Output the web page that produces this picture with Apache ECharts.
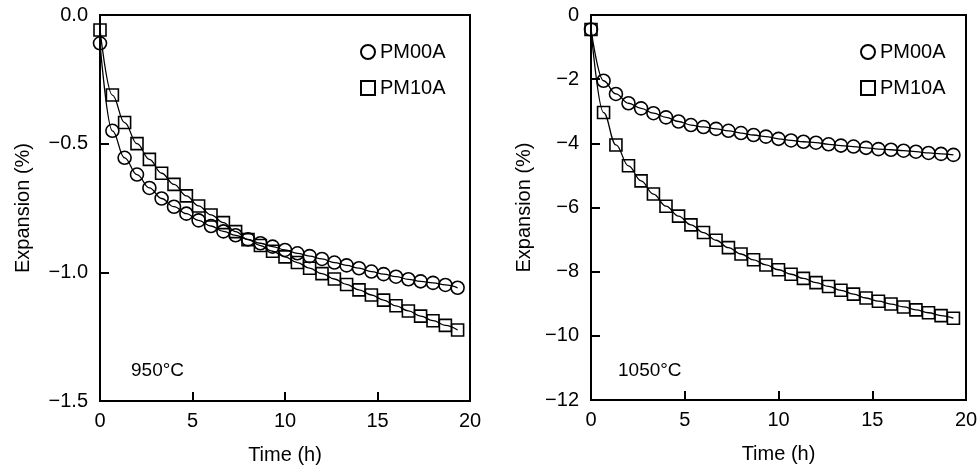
<!DOCTYPE html>
<html>
<head>
<meta charset="utf-8">
<script src="https://cdn.jsdelivr.net/npm/echarts@6/dist/echarts.min.js"></script>
<style>
  html, body { margin: 0; padding: 0; background: #fff; }
  #chart { width: 980px; height: 465px; }
</style>
</head>
<body>
<div id="chart"></div>
<script>
// time (h) of each measurement
const timeH = [0, 0.67, 1.33, 2, 2.67, 3.33, 4, 4.67, 5.33, 6, 6.67, 7.33, 8, 8.67, 9.33,
  10, 10.67, 11.33, 12, 12.67, 13.33, 14, 14.67, 15.33, 16, 16.67, 17.33, 18, 18.67, 19.33];

// 950°C
const pm00a950 = [-0.11, -0.45, -0.555, -0.62, -0.672, -0.713, -0.745, -0.772, -0.798, -0.82,
  -0.841, -0.856, -0.872, -0.887, -0.9, -0.913, -0.926, -0.937, -0.948, -0.962,
  -0.973, -0.984, -0.997, -1.007, -1.017, -1.027, -1.035, -1.041, -1.049, -1.06];
const pm10a950 = [-0.058, -0.311, -0.418, -0.5, -0.561, -0.615, -0.658, -0.703, -0.742, -0.777,
  -0.807, -0.842, -0.873, -0.896, -0.918, -0.94, -0.962, -0.984, -1.005, -1.026,
  -1.047, -1.068, -1.088, -1.108, -1.13, -1.15, -1.17, -1.188, -1.206, -1.224];

// 1050°C
const pm00a1050 = [-0.45, -2.05, -2.46, -2.75, -2.91, -3.06, -3.19, -3.32, -3.43, -3.49,
  -3.55, -3.61, -3.68, -3.74, -3.79, -3.86, -3.91, -3.95, -3.98, -4.03,
  -4.07, -4.1, -4.14, -4.18, -4.2, -4.23, -4.26, -4.3, -4.33, -4.36];
const pm10a1050 = [-0.45, -3.04, -4.05, -4.7, -5.17, -5.58, -5.96, -6.27, -6.54, -6.78,
  -7.02, -7.25, -7.45, -7.63, -7.79, -7.94, -8.08, -8.21, -8.34, -8.46,
  -8.58, -8.7, -8.82, -8.92, -9.01, -9.1, -9.19, -9.28, -9.37, -9.45];

const xTicks = [0, 5, 10, 15, 20];
const yLeftRange = [-1.5, 0];
const yRightRange = [-12, 0];
const seriesNames = ["PM00A", "PM10A"];

const FONT = "Liberation Sans, Arial, sans-serif";

function pairs(xs, ys) {
  return xs.map(function (x, i) { return [x, ys[i]]; });
}
function minusLabel(v, digits) {
  if (v === 0) return digits ? (0).toFixed(digits) : "0";
  const s = Math.abs(v).toFixed(digits);
  return (v < 0 ? "\u2212" : "") + s;
}

const myChart = echarts.init(document.getElementById("chart"), null, { renderer: "canvas" });

function xAxisOf(gridIndex) {
  return {
    gridIndex: gridIndex,
    type: "value",
    min: xTicks[0],
    max: xTicks[xTicks.length - 1],
    interval: 5,
    name: "Time (h)",
    nameLocation: "middle",
    nameGap: 44,
    nameTextStyle: { color: "#000", fontSize: 20, fontFamily: FONT },
    // keep the axis at the bottom (0 is the top of the y range)
    axisLine: { show: true, onZero: false, lineStyle: { color: "#000", width: 2 } },
    axisTick: { show: true, inside: true, length: 9, lineStyle: { color: "#000", width: 2 } },
    axisLabel: { color: "#000", fontSize: 20, fontFamily: FONT, margin: 10 },
    splitLine: { show: false }
  };
}
function yAxisOf(gridIndex, range, interval, digits, gap) {
  return {
    gridIndex: gridIndex,
    type: "value",
    min: range[0],
    max: range[1],
    interval: interval,
    name: "Expansion (%)",
    nameLocation: "middle",
    nameGap: gap,
    nameTextStyle: { color: "#000", fontSize: 20, fontFamily: FONT },
    axisLine: { show: true, onZero: false, lineStyle: { color: "#000", width: 2 } },
    axisTick: { show: true, inside: true, length: 9, lineStyle: { color: "#000", width: 2 } },
    axisLabel: {
      color: "#000", fontSize: 20, fontFamily: FONT, margin: 12,
      formatter: function (v) { return minusLabel(v, digits); }
    },
    splitLine: { show: false }
  };
}
function lineSeries(name, data, symbol, idx) {
  return {
    name: name,
    type: "line",
    xAxisIndex: idx,
    yAxisIndex: idx,
    data: data,
    smooth: 0.4,
    smoothMonotone: "x",
    symbol: symbol,
    symbolSize: symbol === "circle" ? 13 : 12,
    showAllSymbol: true,
    lineStyle: { color: "#000", width: 1.3 },
    itemStyle: { color: "rgba(255,255,255,0)", borderColor: "#000", borderWidth: 1.6 },
    emphasis: { disabled: true },
    animation: false
  };
}
function legendOf(left) {
  return {
    left: left,
    top: 37,
    orient: "vertical",
    itemWidth: 14,
    itemHeight: 14,
    itemGap: 16,
    textStyle: { color: "#000", fontSize: 20, fontFamily: FONT },
    data: [
      { name: seriesNames[0], icon: "circle" },
      { name: seriesNames[1], icon: "rect" }
    ]
  };
}

const option = {
  backgroundColor: "#fff",
  animation: false,
  grid: [
    { left: 100, right: 510, top: 15, bottom: 64, show: true, borderColor: "#000", borderWidth: 2, outerBoundsMode: "none", containLabel: false },
    { left: 591, right: 14, top: 15, bottom: 65, show: true, borderColor: "#000", borderWidth: 2, outerBoundsMode: "none", containLabel: false }
  ],
  // temperature labels inside the plots
  title: [
    { text: "950°C", left: 126, top: 356, textStyle: { fontSize: 19, fontWeight: "normal", color: "#000", fontFamily: FONT } },
    { text: "1050°C", left: 613, top: 356, textStyle: { fontSize: 19, fontWeight: "normal", color: "#000", fontFamily: FONT } }
  ],
  legend: [legendOf(355), legendOf(855)],
  xAxis: [xAxisOf(0), xAxisOf(1)],
  yAxis: [
    yAxisOf(0, yLeftRange, 0.5, 1, 67),
    yAxisOf(1, yRightRange, 2, 0, 57)
  ],
  series: [
    lineSeries(seriesNames[0], pairs(timeH, pm00a950), "circle", 0),
    lineSeries(seriesNames[1], pairs(timeH, pm10a950), "rect", 0),
    lineSeries(seriesNames[0], pairs(timeH, pm00a1050), "circle", 1),
    lineSeries(seriesNames[1], pairs(timeH, pm10a1050), "rect", 1)
  ]
};
myChart.setOption(option);
</script>
</body>
</html>
